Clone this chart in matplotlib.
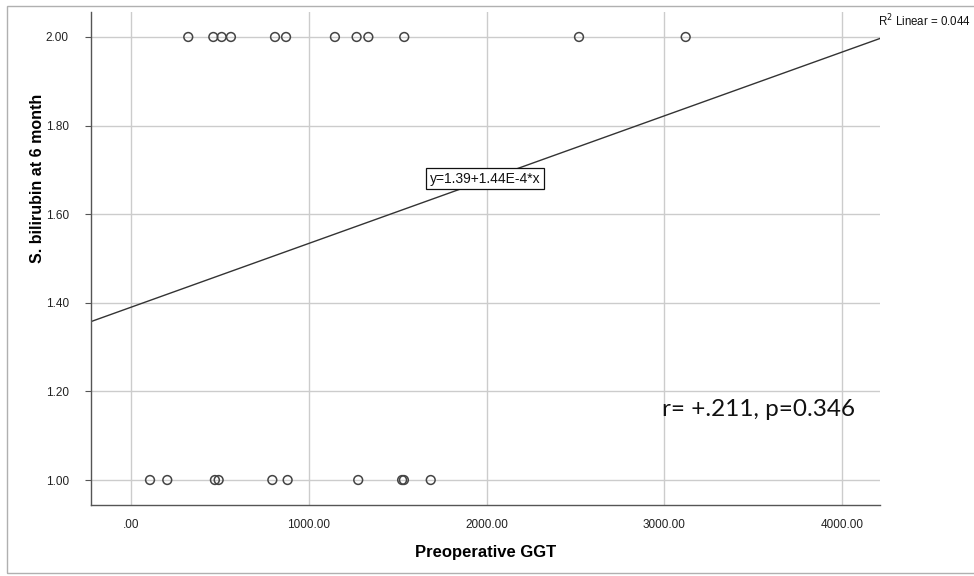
import numpy as np
import matplotlib.pyplot as plt
from matplotlib.patches import Rectangle

# Preoperative GGT vs. S. bilirubin at 6 month (coded 1 / 2)
ggt_high = [322, 463, 510, 562, 810, 872, 1147, 1269, 1335, 1537, 2520, 3120]
ggt_low = [107, 204, 472, 493, 795, 881, 1278, 1525, 1535, 1686]
bili_high = [2.0] * len(ggt_high)
bili_low = [1.0] * len(ggt_low)

# fitted line y = a + b*x
intercept = 1.39
slope = 1.44e-4
r2 = 0.044

x_ticks = [0, 1000, 2000, 3000, 4000]
x_tick_labels = [".00", "1000.00", "2000.00", "3000.00", "4000.00"]
y_ticks = [1.0, 1.2, 1.4, 1.6, 1.8, 2.0]
y_tick_labels = ["1.00", "1.20", "1.40", "1.60", "1.80", "2.00"]

W, H = 974, 576
fig = plt.figure(figsize=(W / 100, H / 100), dpi=100)
ax = fig.add_axes([91 / W, (H - 505) / H, (880 - 91) / W, (505 - 12) / H])

xmin, xmax = -225, 4213
ymin, ymax = 0.9436, 2.0564
ax.set_xlim(xmin, xmax)
ax.set_ylim(ymin, ymax)

ax.set_xticks(x_ticks)
ax.set_xticklabels(x_tick_labels)
ax.set_yticks(y_ticks)
ax.set_yticklabels(y_tick_labels)
for lab in ax.get_xticklabels() + ax.get_yticklabels():
    lab.set_fontfamily("Liberation Sans")
    lab.set_fontsize(8.5)
    lab.set_color("#222222")
ax.tick_params(axis="x", length=0, pad=10)
ax.tick_params(axis="y", length=4, width=0.8, color="#555555", pad=12)

ax.grid(True, color="#cccccc", linewidth=1.0)
ax.set_axisbelow(True)
for s in ["top", "right"]:
    ax.spines[s].set_visible(False)
for s in ["left", "bottom"]:
    ax.spines[s].set_color("#555555")
    ax.spines[s].set_linewidth(1.0)

ax.scatter(ggt_high, bili_high, s=40, facecolors="none", edgecolors="#444444",
           linewidths=1.1, zorder=3)
ax.scatter(ggt_low, bili_low, s=40, facecolors="none", edgecolors="#444444",
           linewidths=1.1, zorder=3)

xs = np.array([xmin, xmax])
ax.plot(xs, intercept + slope * xs, color="#333333", linewidth=1.0, zorder=2)

ax.text(1990, 1.68, "y=1.39+1.44E-4*x", ha="center", va="center", fontsize=10,
        family="Liberation Sans", color="#111111", zorder=4,
        bbox=dict(boxstyle="square,pad=0.25", facecolor="white",
                  edgecolor="#111111", linewidth=0.9))

fig.text(878 / W, 1 - 21 / H, "R$^2$ Linear = %.3f" % r2, ha="left", va="center",
         fontsize=8.3, family="Liberation Sans", color="#111111")

fig.text(662 / W, 1 - 410 / H, "r= +.211, p=0.346", ha="left", va="center",
         fontsize=17.5, family="Lato", color="#111111")

fig.text(486 / W, 1 - 552 / H, "Preoperative GGT", ha="center", va="center",
         fontsize=12, fontweight="bold", family="Liberation Sans")
fig.text(38 / W, 1 - 178 / H, "S. bilirubin at 6 month", ha="center", va="center",
         rotation=90, fontsize=11.5, fontweight="bold", family="Liberation Sans")

# outer frame around the chart area
fig.patches.append(Rectangle((7 / W, 3 / H), 1.2, 1 - 9 / H, transform=fig.transFigure,
                             fill=False, edgecolor="#b0b0b0", linewidth=1.0))

fig.savefig("out.png", dpi=100)
